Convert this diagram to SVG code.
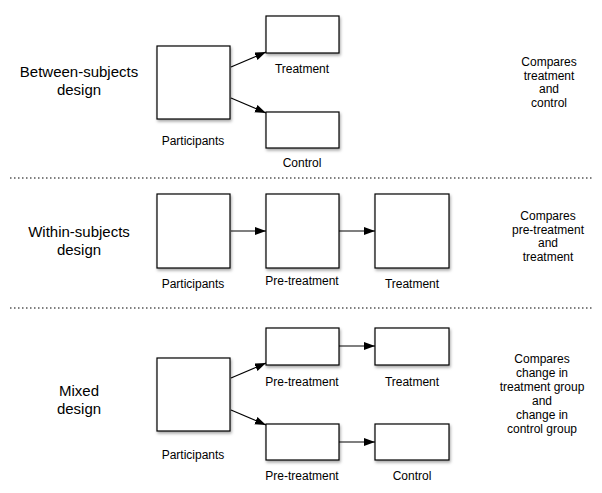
<svg xmlns="http://www.w3.org/2000/svg" width="602" height="493" viewBox="0 0 602 493">
<style>
.box{fill:#fff;stroke:#000;stroke-width:1.2;filter:url(#sh)}
.lbl{font-family:"Liberation Sans",Arial,sans-serif;font-size:12px;fill:#000;text-anchor:middle}
.big{font-family:"Liberation Sans",Arial,sans-serif;font-size:15px;fill:#000;text-anchor:middle}
.conn{stroke:#000;stroke-width:1.2;fill:none;marker-end:url(#ah)}
.sep{stroke:#000;stroke-width:1.2;stroke-dasharray:1.5 2.5;fill:none}
</style>
<defs>
<filter id="sh" x="-20%" y="-20%" width="140%" height="140%">
<feDropShadow dx="1" dy="2" stdDeviation="1.5" flood-color="#000" flood-opacity="0.35"/>
</filter>
<marker id="ah" markerUnits="userSpaceOnUse" markerWidth="12" markerHeight="10" refX="11" refY="4" orient="auto">
<path d="M0,0 L11,4 L0,8 Z" fill="#000"/>
</marker>
</defs>
<rect width="602" height="493" fill="#fff"/>

<g id="separators">
<line class="sep" x1="10" y1="178" x2="592" y2="178"/>
<line class="sep" x1="10" y1="308" x2="592" y2="308"/>
</g>

<g id="section-labels">
<text class="big" x="79" y="77">Between-subjects</text>
<text class="big" x="79" y="95">design</text>
<text class="big" x="79" y="237">Within-subjects</text>
<text class="big" x="79" y="255">design</text>
<text class="big" x="79" y="396">Mixed</text>
<text class="big" x="79" y="414">design</text>
</g>

<g id="connectors">
<path class="conn" d="M231,67 L266,52"/>
<path class="conn" d="M231,98 L266,113"/>
<path class="conn" d="M231,231 L266,231"/>
<path class="conn" d="M339,231 L375,231"/>
<path class="conn" d="M231,378 L266,363"/>
<path class="conn" d="M231,410 L266,425"/>
<path class="conn" d="M339,346 L375,346"/>
<path class="conn" d="M339,442 L375,442"/>
</g>

<g id="b-participants"><rect class="box" x="157" y="46" width="73" height="73"/><text class="lbl" x="193" y="145">Participants</text></g>
<g id="b-treatment"><rect class="box" x="266" y="16" width="73" height="37"/><text class="lbl" x="302" y="73">Treatment</text></g>
<g id="b-control"><rect class="box" x="266" y="112" width="73" height="36"/><text class="lbl" x="302" y="167">Control</text></g>

<g id="w-participants"><rect class="box" x="157" y="194" width="73" height="74"/><text class="lbl" x="193" y="288">Participants</text></g>
<g id="w-pretreatment"><rect class="box" x="266" y="194" width="73" height="74"/><text class="lbl" x="302" y="285">Pre-treatment</text></g>
<g id="w-treatment"><rect class="box" x="375" y="194" width="74" height="74"/><text class="lbl" x="412" y="288">Treatment</text></g>

<g id="m-participants"><rect class="box" x="157" y="358" width="73" height="73"/><text class="lbl" x="193" y="459">Participants</text></g>
<g id="m-pretreatment1"><rect class="box" x="266" y="328" width="73" height="37"/><text class="lbl" x="302" y="386">Pre-treatment</text></g>
<g id="m-treatment"><rect class="box" x="375" y="328" width="74" height="37"/><text class="lbl" x="412" y="386">Treatment</text></g>
<g id="m-pretreatment2"><rect class="box" x="266" y="424" width="73" height="36"/><text class="lbl" x="302" y="480">Pre-treatment</text></g>
<g id="m-control"><rect class="box" x="375" y="424" width="74" height="36"/><text class="lbl" x="412" y="480">Control</text></g>

<g id="notes">
<text class="lbl" x="549" y="66">Compares</text>
<text class="lbl" x="549" y="80">treatment</text>
<text class="lbl" x="549" y="93">and</text>
<text class="lbl" x="549" y="107">control</text>
<text class="lbl" x="548" y="220">Compares</text>
<text class="lbl" x="548" y="234">pre-treatment</text>
<text class="lbl" x="548" y="247">and</text>
<text class="lbl" x="548" y="261">treatment</text>
<text class="lbl" x="542" y="363">Compares</text>
<text class="lbl" x="542" y="377">change in</text>
<text class="lbl" x="542" y="391">treatment group</text>
<text class="lbl" x="542" y="405">and</text>
<text class="lbl" x="542" y="419">change in</text>
<text class="lbl" x="542" y="433">control group</text>
</g>
</svg>
